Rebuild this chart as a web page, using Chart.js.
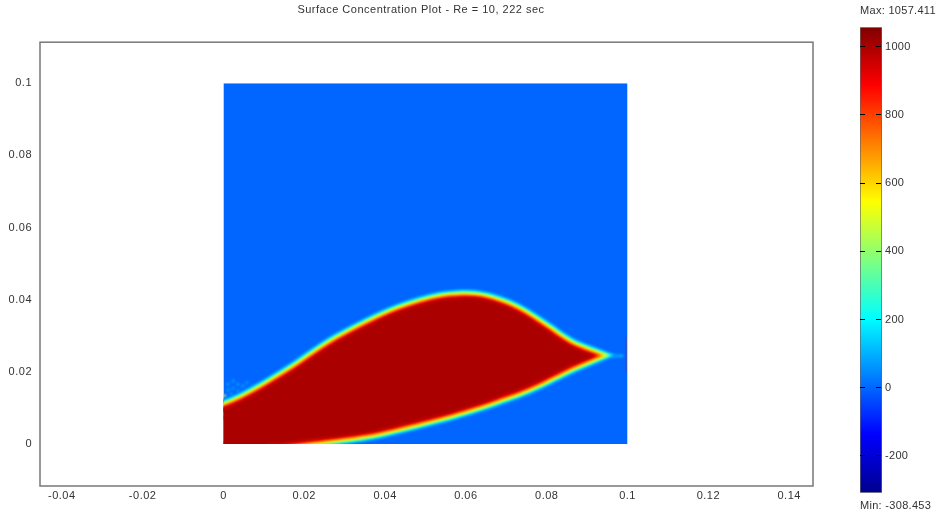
<!DOCTYPE html>
<html>
<head>
<meta charset="utf-8">
<title>Surface Concentration Plot</title>
<script src="https://cdn.jsdelivr.net/npm/chart.js@4"></script>
<style>
  html, body { margin: 0; padding: 0; background: #fff; overflow: hidden; }
  canvas { position: absolute; top: 0; }
  #plot { left: 0; }
  #barra { left: 842px; }
</style>
</head>
<body>
<canvas id="plot" width="842" height="514"></canvas>
<canvas id="barra" width="94" height="514"></canvas>
<script>
const titulo = "Surface Concentration Plot - Re = 10, 222 sec";
const textoMax = "Max: 1057.411";
const textoMin = "Min: -308.453";

const xTicks = [-0.04, -0.02, 0, 0.02, 0.04, 0.06, 0.08, 0.1, 0.12, 0.14];
const yTicks = [0, 0.02, 0.04, 0.06, 0.08, 0.1];
const barTicks = [-200, 0, 200, 400, 600, 800, 1000];

const dominioX = [0, 0.1, 0.1, 0];
const dominioY = [0, 0, 0.1, 0.1];

// contorno da pluma (borda do vermelho escuro); a ponta repetida fica aguda
// os pontos negativos ficam fora do dominio e sao recortados
const plumaX = [-0.002, 0, 0.0041, 0.0090, 0.0135, 0.0182, 0.0226, 0.0271, 0.0313, 0.0355, 0.0400, 0.0437, 0.0486, 0.0536, 0.0593, 0.0623, 0.0652, 0.0684, 0.0709, 0.0739, 0.0766, 0.0801, 0.0833, 0.0858, 0.0882, 0.0915, 0.0915,
  0.0896, 0.0858, 0.0816, 0.0776, 0.0734, 0.0692, 0.0652, 0.0610, 0.0568, 0.0528, 0.0486, 0.0425, 0.0355, 0.0271, 0.0189, 0.0147, 0.0100, 0.0100, -0.002, -0.002];
const plumaY = [0.0091, 0.0097, 0.0116, 0.0145, 0.0175, 0.0208, 0.0242, 0.0275, 0.0301, 0.0325, 0.0349, 0.0366, 0.0384, 0.0398, 0.0404, 0.0403, 0.0397, 0.0386, 0.0375, 0.0358, 0.0339, 0.0313, 0.0288, 0.0271, 0.0259, 0.0245, 0.0245,
  0.0236, 0.0218, 0.0195, 0.0173, 0.0153, 0.0136, 0.0120, 0.0105, 0.0091, 0.0079, 0.0067, 0.0050, 0.0033, 0.0020, 0.0009, 0.0003, -0.0004, -0.002, -0.002, -0.002];

const caudaX = [0.0940, 0.0990];
const caudaY = [0.0243, 0.0245];

const riscoX = [0.09955, 0.09955];
const riscoY = [0.0199, 0.0297];

// ondulacao perto da borda esquerda
const ondaX = [0.0011, 0.0024, 0.0036, 0.0048, 0.0011, 0.0024, 0.0036, 0.0048, 0.0061, 0.0006, 0.0019, 0.0031, 0.0043, 0.0011, 0.0024, 0.0036, 0.0058, 0.0072];
const ondaY = [0.0166, 0.0175, 0.0166, 0.0161, 0.0150, 0.0155, 0.0147, 0.0141, 0.0152, 0.0133, 0.0139, 0.0130, 0.0133, 0.0119, 0.0122, 0.0127, 0.0170, 0.0160];

const brilhoX = [0.0004, 0.0010, 0.0002];
const brilhoY = [0.0118, 0.0108, 0.0134];
const brilhoCores = ["#00e0f0", "#00e0f0", "#e0e040"];

const faixaCores = ["#0080ff", "#0099ff", "#00ccff", "#20ffdf", "#80ff80", "#dfff20", "#ffcc00", "#ff8000", "#ff3300", "#e00000", "#c40000"];
const faixaLarguras = [19, 17.5, 16, 14, 12.5, 11, 9, 7, 5, 3, 1.5];

const barLimites = [-308.453, 1057.411];
const barStops = [0, 0.125, 0.375, 0.625, 0.875, 1];
const barCores = ["#00008f", "#0000ff", "#00ffff", "#ffff00", "#ff0000", "#800000"];

const fonte = { family: "'Liberation Sans', Arial, sans-serif", size: 11, weight: "normal" };
const corTexto = "#333";

const paraPontos = (xs, ys) => xs.map((x, i) => ({ x: x, y: ys[i] }));

const camada = (xs, ys, extra) => Object.assign({
  data: paraPontos(xs, ys),
  pointRadius: 0,
  borderWidth: 0,
  tension: 0,
  showLine: true,
  fill: false
}, extra);

const conjuntos = [];
conjuntos.push(camada(riscoX, riscoY, { borderColor: "#e0102a", borderWidth: 1, nitido: true, order: 0 }));
conjuntos.push(camada(plumaX, plumaY, { fill: "shape", backgroundColor: "#aa0000", borderColor: "#aa0000", tension: 0.4, order: 1 }));
faixaCores.forEach((cor, i) => {
  conjuntos.push(camada(plumaX, plumaY, {
    borderColor: cor,
    borderWidth: faixaLarguras[i],
    borderJoinStyle: "miter",
    tension: 0.4,
    order: 30 - i
  }));
});
conjuntos.push(camada(caudaX, caudaY, { borderColor: "#00aaff", borderWidth: 3, order: 50 }));
conjuntos.push(camada(brilhoX, brilhoY, { showLine: false, pointRadius: 1.5, pointBorderWidth: 0, pointBackgroundColor: brilhoCores, order: 54 }));
conjuntos.push(camada(ondaX, ondaY, { showLine: false, pointRadius: 2, pointBorderWidth: 0, pointBackgroundColor: "rgba(0,200,255,0.4)", order: 55 }));
conjuntos.push(camada(dominioX, dominioY, { fill: "shape", backgroundColor: "#0066ff", borderColor: "#0066ff", nitido: true, order: 60 }));

// o contexto e zerado quando o Chart ajusta o canvas, entao o espacamento vai aqui
const espacamento = (px) => ({
  id: "espacamento",
  beforeDraw(chart) {
    chart.ctx.letterSpacing = px;
  }
});

// recorta tudo no dominio quadrado, suaviza as camadas e desenha a moldura
const recorte = {
  id: "recorte",
  beforeDatasetsDraw(chart) {
    const { x, y } = chart.scales;
    const esq = x.getPixelForValue(0), dir = x.getPixelForValue(0.1);
    const topo = y.getPixelForValue(0.1), base = y.getPixelForValue(0);
    chart.ctx.save();
    chart.ctx.beginPath();
    chart.ctx.rect(esq, topo, dir - esq, base - topo);
    chart.ctx.clip();
  },
  beforeDatasetDraw(chart, args) {
    chart.ctx.filter = chart.data.datasets[args.index].nitido ? "none" : "blur(0.9px)";
  },
  afterDatasetsDraw(chart) {
    chart.ctx.restore();
  },
  afterDraw(chart) {
    const a = chart.chartArea;
    chart.ctx.save();
    chart.ctx.strokeStyle = "#777";
    chart.ctx.lineWidth = 1.5;
    chart.ctx.strokeRect(a.left, a.top, a.right - a.left, a.bottom - a.top);
    chart.ctx.restore();
  }
};

new Chart(document.getElementById("plot"), {
  type: "scatter",
  data: { datasets: conjuntos },
  plugins: [espacamento("0.5px"), recorte],
  options: {
    responsive: false,
    animation: false,
    events: [],
    plugins: {
      legend: { display: false },
      tooltip: { enabled: false },
      title: {
        display: true,
        text: titulo,
        color: corTexto,
        font: fonte,
        padding: { top: 3, bottom: 26 }
      }
    },
    scales: {
      x: {
        type: "linear",
        min: -0.0454,
        max: 0.1459,
        grid: { display: false, drawTicks: false },
        border: { display: false },
        afterBuildTicks: (eixo) => { eixo.ticks = xTicks.map(v => ({ value: v })); },
        afterFit: (eixo) => { eixo.height = 28; },
        ticks: { color: corTexto, font: fonte, maxRotation: 0, autoSkip: false, padding: 3, callback: v => String(v) }
      },
      y: {
        type: "linear",
        min: -0.01163,
        max: 0.11136,
        grid: { display: false, drawTicks: false },
        border: { display: false },
        afterBuildTicks: (eixo) => { eixo.ticks = yTicks.map(v => ({ value: v })); },
        afterFit: (eixo) => { eixo.width = 40; },
        ticks: { color: corTexto, font: fonte, autoSkip: false, padding: 8, callback: v => String(v) }
      },
      // eixo vazio so para reservar a margem direita e manter o titulo centrado em 421
      margem: {
        type: "linear",
        position: "right",
        grid: { display: false, drawTicks: false },
        border: { display: false },
        afterFit: (eixo) => { eixo.width = 29; },
        ticks: { display: false }
      }
    }
  }
});

const gradienteBarra = (ctx) => {
  const chart = ctx.chart;
  if (!chart.chartArea) return barCores[0];
  const y = chart.scales.y;
  const g = chart.ctx.createLinearGradient(0, y.getPixelForValue(barLimites[0]), 0, y.getPixelForValue(barLimites[1]));
  barStops.forEach((s, i) => g.addColorStop(s, barCores[i]));
  return g;
};

new Chart(document.getElementById("barra"), {
  type: "bar",
  data: {
    labels: [""],
    datasets: [{
      data: [barLimites],
      backgroundColor: gradienteBarra,
      borderColor: "#666",
      borderWidth: 1,
      borderSkipped: false,
      barPercentage: 1,
      categoryPercentage: 1
    }]
  },
  plugins: [espacamento("0.3px")],
  options: {
    responsive: false,
    animation: false,
    events: [],
    layout: { padding: { left: 18, right: 0 } },
    plugins: {
      legend: { display: false },
      tooltip: { enabled: false },
      title: {
        display: true,
        text: textoMax,
        color: corTexto,
        font: fonte,
        align: "start",
        padding: { top: 4, bottom: 10 }
      },
      subtitle: {
        display: true,
        position: "bottom",
        text: textoMin,
        color: corTexto,
        font: fonte,
        align: "start",
        padding: { top: 7, bottom: 1 }
      }
    },
    scales: {
      x: { display: false },
      y: {
        position: "right",
        min: barLimites[0],
        max: barLimites[1],
        grid: { color: "#000", z: 1, drawTicks: false },
        border: { display: false, dash: [5, 11, 5] },
        afterBuildTicks: (eixo) => { eixo.ticks = barTicks.map(v => ({ value: v })); },
        afterFit: (eixo) => { eixo.width = 54; },
        ticks: { color: corTexto, font: fonte, autoSkip: false, padding: 3, callback: v => String(v) }
      }
    }
  }
});
</script>
</body>
</html>
